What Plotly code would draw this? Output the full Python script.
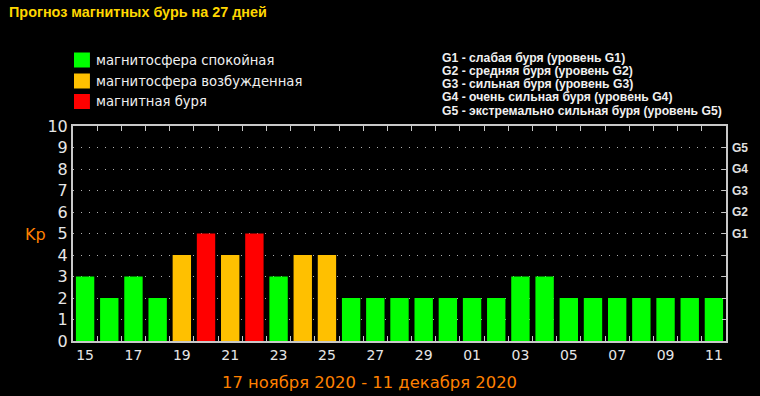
import plotly.graph_objects as go

# ---- data ----
days = ["15", "16", "17", "18", "19", "20", "21", "22", "23", "24", "25", "26", "27", "28",
        "29", "30", "01", "02", "03", "04", "05", "06", "07", "08", "09", "10", "11"]
kp = [3, 2, 3, 2, 4, 5, 4, 5, 3, 4, 4, 2, 2, 2, 2, 2, 2, 2, 3, 3, 2, 2, 2, 2, 2, 2, 2]
legend_labels = ["магнитосфера спокойная", "магнитосфера возбужденная", "магнитная буря"]
legend_colors = ["#00ff00", "#ffc000", "#ff0000"]
g_lines = ["G1 - слабая буря (уровень G1)",
           "G2 - средняя буря (уровень G2)",
           "G3 - сильная буря (уровень G3)",
           "G4 - очень сильная буря (уровень G4)",
           "G5 - экстремально сильная буря (уровень G5)"]
g_ticks = [1, 2, 3, 4, 5, 6, 7, 8, 9]
g_text = ["", "", "", "", "G1", "G2", "G3", "G4", "G5"]
title_text = "Прогноз магнитных бурь на 27 дней"
date_text = "17 ноября 2020 - 11 декабря 2020"

W, H = 760, 396
L, R, T, B = 73, 31, 126, 55
PW, PH = W - L - R, H - T - B


def px(xp):
    return (xp - L) / PW


def py(yp):
    return (H - B - yp) / PH


x = list(range(len(days)))
colors = [legend_colors[2] if v >= 5 else legend_colors[1] if v == 4 else legend_colors[0] for v in kp]

fig = go.Figure()
fig.add_trace(go.Bar(x=x, y=kp, marker=dict(color=colors, line=dict(width=0)),
                     width=0.76, showlegend=False, hoverinfo="x+y"))
fig.add_trace(go.Scatter(x=x, y=kp, yaxis="y2", mode="markers",
                         marker=dict(opacity=0), showlegend=False, hoverinfo="skip"))

axcol = "#c8c8c8"
fig.update_layout(
    width=W, height=H,
    margin=dict(l=L, r=R, t=T, b=B),
    paper_bgcolor="black", plot_bgcolor="black",
    bargap=0.24,
    xaxis=dict(range=[-0.5, len(days) - 0.5], tickvals=x[::2], ticktext=days[::2],
               ticks="", showgrid=False, zeroline=False,
               showline=True, linecolor=axcol, linewidth=2, mirror="allticks",
               tickfont=dict(family="DejaVu Sans", size=14, color="#e6e6e6"),
               minor=dict(tickvals=[i + 0.5 for i in x[:-1]], ticks="inside",
                          ticklen=5, tickcolor=axcol, tickwidth=1, showgrid=False)),
    yaxis=dict(range=[0, 10], tickvals=list(range(11)), ticks="",
               showgrid=True, gridcolor="#b0b0b0", griddash="1px,7px", gridwidth=1,
               zeroline=False, showline=True, linecolor=axcol, linewidth=2, mirror=True,
               tickfont=dict(family="DejaVu Sans", size=16, color="#e6e6e6")),
    yaxis2=dict(range=[0, 10], overlaying="y", side="right", tickvals=g_ticks,
                ticktext=g_text, ticks="inside", ticklen=4, tickcolor=axcol,
                ticklabelstandoff=5,
                showgrid=False, zeroline=False, showline=False,
                tickfont=dict(family="Liberation Sans", size=12, color="#e0e0e0", weight="bold")),
)

ann = []
ann.append(dict(x=px(7), y=py(12), xref="paper", yref="paper", text=title_text,
                showarrow=False, xanchor="left", yanchor="middle",
                font=dict(family="Liberation Sans", size=14.4, color="#ffd700", weight="bold")))
shapes = []
leg_y = [60, 81, 101.5]
for lab, col, yy in zip(legend_labels, legend_colors, leg_y):
    shapes.append(dict(type="rect", xref="paper", yref="paper",
                       x0=px(74), x1=px(90), y0=py(yy - 7.5), y1=py(yy + 7.5),
                       fillcolor=col, line=dict(width=0)))
    ann.append(dict(x=px(94), y=py(yy), xref="paper", yref="paper", text=lab,
                    showarrow=False, xanchor="left", yanchor="middle",
                    font=dict(family="DejaVu Sans", size=13.2, color="#f0f0f0")))
for i, t in enumerate(g_lines):
    ann.append(dict(x=px(442), y=py(57.5 + i * 13.3), xref="paper", yref="paper", text=t,
                    showarrow=False, xanchor="left", yanchor="middle",
                    font=dict(family="Liberation Sans", size=12.2, color="#f0f0f0", weight="bold")))
ann.append(dict(x=px(35), y=py(234), xref="paper", yref="paper", text="Kp",
                showarrow=False, xanchor="center", yanchor="middle",
                font=dict(family="DejaVu Sans", size=16, color="#ff8000")))
ann.append(dict(x=px(371), y=py(382), xref="paper", yref="paper", text=date_text,
                showarrow=False, xanchor="center", yanchor="middle",
                font=dict(family="DejaVu Sans", size=16.4, color="#ff8000")))
fig.update_layout(annotations=ann, shapes=shapes)

fig.write_html("out.html", config={"displayModeBar": False},
               post_script="document.body.style.margin='0';document.body.style.background='black';")
